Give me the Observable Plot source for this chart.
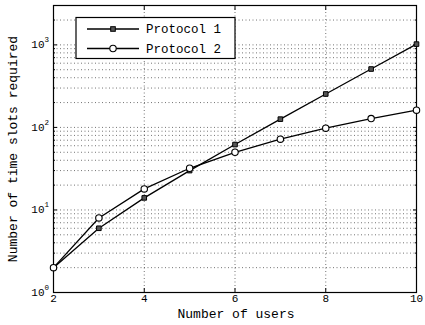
<!DOCTYPE html>
<html><head><meta charset="utf-8">
<script src="https://cdn.jsdelivr.net/npm/d3@7"></script>
<script src="https://cdn.jsdelivr.net/npm/@observablehq/plot@0.6"></script>
<style>body{margin:0;background:#fff}</style>
</head><body><div id="chart"></div>
<script>
const users = [2, 3, 4, 5, 6, 7, 8, 9, 10];
const protocol1 = [2, 6, 14, 30, 62, 126, 254, 510, 1022];
const protocol2 = [2, 8, 18, 32, 50, 72, 98, 128, 162];
const seriesNames = ["Protocol 1", "Protocol 2"];
const xTicks = [2, 4, 6, 8, 10];
const yMajor = [1, 10, 100, 1000];
const yExp = ["0", "1", "2", "3"];
const yMinor = [];
for (const d of [1, 10, 100, 1000]) for (let k = 2; k <= 9; k++) if (d * k < 3000) yMinor.push(d * k);

const rows = [];
users.forEach((u, i) => {
  rows.push({u, v: protocol1[i], s: seriesNames[0]});
  rows.push({u, v: protocol2[i], s: seriesNames[1]});
});
const p1 = rows.filter(r => r.s === seriesNames[0]);
const p2 = rows.filter(r => r.s === seriesNames[1]);
const font = "Liberation Mono, Courier New, monospace";

const chart = Plot.plot({
  width: 425, height: 325,
  marginLeft: 53, marginRight: 9, marginTop: 5, marginBottom: 33,
  style: {fontFamily: font, fontSize: "10px", background: "#fff", color: "#000"},
  x: {domain: [2, 10], label: null},
  y: {type: "log", domain: [1, 3000], label: null},
  marks: [
    Plot.gridX(xTicks.slice(1, -1), {stroke: "#000", strokeOpacity: 0.55, strokeDasharray: "1,2.5"}),
    Plot.gridY(yMinor.concat(yMajor.slice(1)), {stroke: "#000", strokeOpacity: 0.55, strokeDasharray: "1,2.5"}),
    Plot.axisX(xTicks, {tickSize: -4, tickPadding: 6, fontSize: 11, label: null, tickFormat: d => String(d)}),
    Plot.axisX(xTicks, {anchor: "top", tickSize: -4, tickFormat: () => "", label: null}),
    Plot.axisY(yMajor, {tickSize: -4, tickFormat: () => "", label: null}),
    Plot.axisY(yMinor, {tickSize: -2, tickFormat: () => "", label: null}),
    Plot.axisY(yMajor, {anchor: "right", tickSize: -4, tickFormat: () => "", label: null}),
    Plot.axisY(yMinor, {anchor: "right", tickSize: -2, tickFormat: () => "", label: null}),
    Plot.text(yMajor, {y: d => d, text: () => "10", frameAnchor: "left", textAnchor: "end", dx: -9, fontSize: 11}),
    Plot.text(yMajor, {y: d => d, text: (d, i) => yExp[i], frameAnchor: "left", textAnchor: "start", dx: -9, dy: -5, fontSize: 7.5}),
    Plot.frame({stroke: "#000", strokeWidth: 1.2}),
    Plot.line(p1, {x: "u", y: "v", stroke: "#000", strokeWidth: 1.3}),
    Plot.line(p2, {x: "u", y: "v", stroke: "#000", strokeWidth: 1.3}),
    Plot.dot(p1, {x: "u", y: "v", symbol: "square", r: 2.6, fill: "#555", stroke: "#000", strokeWidth: 1}),
    Plot.dot(p2, {x: "u", y: "v", symbol: "circle", r: 3.2, fill: "#fff", stroke: "#000", strokeWidth: 1.1})
  ]
});
document.getElementById("chart").appendChild(chart);

// axis titles and legend
const svg = d3.select(chart);
svg.append("text").attr("x", 236).attr("y", 318).attr("text-anchor", "middle")
  .attr("font-family", font).attr("font-size", 13).text("Number of users");
svg.append("text").attr("transform", "translate(17,149) rotate(-90)").attr("text-anchor", "middle")
  .attr("font-family", font).attr("font-size", 13).text("Number of time slots required");

const lg = svg.append("g");
lg.append("rect").attr("x", 76).attr("y", 17.5).attr("width", 159).attr("height", 41)
  .attr("fill", "#fff").attr("stroke", "#000").attr("stroke-width", 1.2);
seriesNames.forEach((name, i) => {
  const y = 29 + i * 19.5;
  lg.append("line").attr("x1", 87).attr("x2", 139).attr("y1", y).attr("y2", y).attr("stroke", "#000").attr("stroke-width", 1.3);
  if (i === 0) lg.append("rect").attr("x", 113 - 2.3).attr("y", y - 2.3).attr("width", 4.6).attr("height", 4.6).attr("fill", "#555").attr("stroke", "#000");
  else lg.append("circle").attr("cx", 113).attr("cy", y).attr("r", 3.2).attr("fill", "#fff").attr("stroke", "#000").attr("stroke-width", 1.1);
  lg.append("text").attr("x", 146).attr("y", y).attr("dy", "0.35em").attr("text-anchor", "start")
    .attr("font-family", font).attr("font-size", 12.5).text(name);
});
</script></body></html>
